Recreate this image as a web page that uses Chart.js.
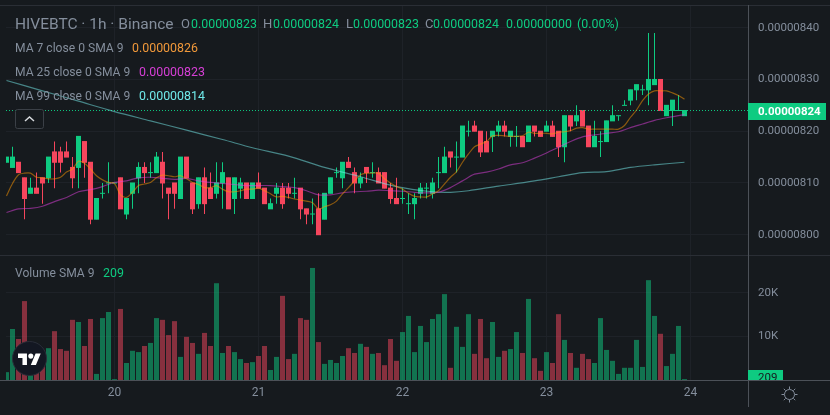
<!DOCTYPE html>
<html>
<head>
<meta charset="utf-8">
<title>HIVEBTC 1h</title>
<script src="https://cdn.jsdelivr.net/npm/chart.js@4/dist/chart.umd.min.js"></script>
<style>
    html, body { margin: 0; padding: 0; background: #161a1e; overflow: hidden; }
    #wrap { position: relative; width: 830px; height: 415px; font-family: Roboto, sans-serif; }
    canvas { position: absolute; left: 0; top: 0; }
    .txt { position: absolute; white-space: nowrap; font-size: 12.4px; line-height: 16px; color: #848e9c; }
    .up { color: #0ecb81; }
    svg { position: absolute; }
</style>
</head>
<body>
<div id="wrap">
    <canvas id="chart" width="830" height="415"></canvas>

    <div class="txt" style="left:15px;top:16px;font-size:15.5px">HIVEBTC · 1h · Binance</div>
    <div class="txt" style="left:181px;top:16px;font-size:13px">O</div>
    <div class="txt up" style="left:191px;top:16px">0.00000823</div>
    <div class="txt" style="left:263px;top:16px;font-size:13px">H</div>
    <div class="txt up" style="left:273px;top:16px">0.00000824</div>
    <div class="txt" style="left:346px;top:16px;font-size:13px">L</div>
    <div class="txt up" style="left:353px;top:16px">0.00000823</div>
    <div class="txt" style="left:425px;top:16px;font-size:13px">C</div>
    <div class="txt up" style="left:433px;top:16px">0.00000824</div>
    <div class="txt up" style="left:506px;top:16px">0.00000000</div>
    <div class="txt up" style="left:577px;top:16px">(0.00%)</div>

    <div class="txt" style="left:15px;top:40px;font-size:12.1px">MA 7 close 0 SMA 9</div>
    <div class="txt" style="left:132px;top:40px;color:#f0983a">0.00000826</div>
    <div class="txt" style="left:15px;top:64px;font-size:12.1px">MA 25 close 0 SMA 9</div>
    <div class="txt" style="left:139px;top:64px;color:#d63fd6">0.00000823</div>
    <div class="txt" style="left:15px;top:88px;font-size:12.1px">MA 99 close 0 SMA 9</div>
    <div class="txt" style="left:139px;top:88px;color:#6fe8e8">0.00000814</div>

    <div class="txt" style="left:15px;top:265px;font-size:12.1px">Volume SMA 9</div>
    <div class="txt up" style="left:103px;top:265px">209</div>

    <!-- collapse button -->
    <svg style="left:15px;top:109px" width="29" height="20">
        <rect x="0.5" y="0.5" width="28" height="19" rx="2" fill="#161a1e" stroke="#3b4047"/>
        <path d="M10 12 L14.5 8 L19 12" fill="none" stroke="#d7dade" stroke-width="1.5"/>
    </svg>

    <!-- tradingview badge -->
    <svg style="left:12px;top:341px" width="35" height="35" viewBox="0 0 35 35">
        <circle cx="17.5" cy="17.5" r="17" fill="#131722" stroke="#2a2e39"/>
        <g transform="translate(6,10) scale(0.64)" fill="#ffffff">
            <path d="M14 22H7V11H0V4h14v18zM28 22h-8l7.5-18h8L28 22z"/>
            <circle cx="20" cy="8" r="4"/>
        </g>
    </svg>

    <!-- settings icon -->
    <svg style="left:780px;top:385px" width="20" height="20" viewBox="0 0 20 20" fill="none" stroke="#848e9c">
        <circle cx="9.5" cy="9.5" r="5"/>
        <path d="M9.5 1.5v2.5M9.5 15v2.5M1.5 9.5h2.5M15 9.5h2.5M3.8 3.8l1.8 1.8M13.4 13.4l1.8 1.8M3.8 15.2l1.8-1.8M13.4 5.6l1.8-1.8"/>
    </svg>
</div>

<script>
// prices are in satoshi (1e-8 BTC), one entry per hourly candle
const candleOpen = [
    814,813,814,811,808,809,811,811,816,816,816,813,813,818,814,803,808,810,810,811,
    804,808,811,813,812,812,814,809,810,807,815,810,806,811,809,808,810,811,807,809,
    810,807,810,809,805,808,809,809,808,809,805,804,805,803,808,812,811,814,812,810,
    813,812,812,812,809,807,807,806,806,808,809,808,812,812,816,815,815,820,821,820,
    818,819,820,821,819,819,819,818,821,820,820,821,820,817,823,822,824,821,817,818,
    818,822,823,825,826,828,828,828,829,830,823,824,824,823
];
const candleHigh = [
    815,817,814,811,811,812,811,815,818,817,818,815,819,818,814,807,810,814,810,811,
    807,810,814,814,814,816,816,809,810,815,815,810,811,813,812,814,814,811,811,811,
    810,810,812,809,807,810,810,810,811,809,805,807,808,808,811,813,814,815,813,812,
    813,814,813,812,810,811,809,808,808,810,810,811,815,817,816,818,821,822,822,820,
    820,820,822,822,820,821,819,821,821,820,822,822,820,823,823,825,824,821,822,820,
    822,825,823,826,828,829,829,839,839,830,825,826,827,824
];
const candleLow = [
    814,813,812,803,808,808,806,810,809,812,815,809,809,811,802,803,807,808,810,805,
    803,805,808,810,811,812,807,803,805,807,811,804,805,804,807,807,805,805,804,807,
    807,807,809,806,805,806,805,807,807,803,802,802,800,803,808,811,809,813,808,809,
    810,811,810,809,806,806,806,804,803,807,807,807,809,812,813,812,815,819,820,815,
    816,816,819,819,817,817,817,818,819,819,820,819,815,814,820,821,821,817,817,815,
    818,822,822,825,825,826,827,825,829,824,823,821,824,823
];
const candleClose = [
    815,815,812,807,809,808,810,815,814,814,815,811,819,814,803,807,808,810,810,805,
    807,810,813,812,812,815,810,808,808,815,811,805,811,806,807,810,812,805,811,810,
    807,810,809,806,806,809,806,808,808,805,804,804,800,808,811,812,814,813,810,811,
    812,812,810,809,807,806,807,806,807,809,809,810,812,815,815,815,821,820,820,816,
    816,820,821,820,820,819,817,821,820,819,821,819,817,823,821,823,821,817,819,818,
    822,823,823,825,828,829,828,830,830,824,825,826,824,824
];

// volume in thousands
const volume = [
    1.8,11.7,9.4,18.1,6,5,4,7.3,11.2,7.1,6.7,13.8,13.3,7.8,14,1.4,14.2,15.6,0.2,16.3,
    3.9,6.7,6.4,7.8,8.5,14.2,13.8,10.3,13.5,5.3,9.9,8.5,6,10.8,7.8,22.2,6.2,7.8,6.4,4.8,
    3.9,4.1,5.5,7.8,2.3,5.3,19.3,4.8,6,14.2,13.8,25.7,8.7,3.7,4.6,3.9,5.5,7.3,6.2,8.3,
    7.6,6,6.2,3.4,9.4,4.4,11,14.7,6.4,12.4,8.7,14,15.1,19.7,2.8,12.2,7.6,15.1,6,14,
    5,13.3,5.3,6.7,7.1,11,6.2,18.6,5,2.1,6.4,3.9,15.1,9.2,6.2,2.8,6,4.8,3.9,14.2,
    6.9,4.4,1.4,2.8,2.8,9.2,3,22.9,14.7,10.6,3.2,6,12.4,0.209
];

const ma7 = [
    807.5,809.9,811.6,811.9,811.9,811.1,811,810.8,810.8,811.1,812.1,812.7,814.2,813.8,812.7,811.4,810.6,810.1,809.9,807.7,
    807.2,808.2,809.5,809.8,810.1,811,811.5,811.4,811.2,811.4,810.8,810.1,809.7,809.1,809.1,809.5,808.8,808.3,808.3,808.5,
    808.8,808.8,809,808.5,807.9,807.3,807.4,807.2,806.9,806.7,806.5,806.2,805,805.4,805.8,806.5,807.9,809.1,810.4,811.6,
    811.9,811.9,811.9,810.8,810,809.3,808.8,808,807.4,807.3,807.3,807.9,808.5,809.8,811.1,812.2,814,815.6,817,817.5,
    818,819.1,819.2,819.1,819,819,819.1,819.8,819.6,819.6,819.6,819.5,819.8,819.9,820.1,820.6,820.7,820.4,820.4,820.4,
    820.4,820.4,820.4,821.1,822.7,824.1,825.9,827.2,827.8,827.8,827.8,827.4,826.9,826.2
];
// the slow averages are read at every few candles only
const ma25Index = [
    0,2,4,6,8,10,12,14,16,18,20,22,24,26,28,30,32,34,36,38,40,42,44,46,48,50,52,54,56,58,60,
    62,64,66,68,70,72,74,76,78,80,82,84,86,88,90,92,94,96,98,100,102,104,106,108,110,112,113
];
const ma25 = [
    804.3,805,805.1,805.5,806.4,807.2,808.3,808.7,809.3,810.1,810.4,811,811.1,810.9,810.7,810.9,810.4,810.1,809.9,809.7,809.5,
    809.5,809.5,809.3,809.1,808.5,807.7,807.7,808.1,808.3,808.4,808.6,808.5,808.4,808.2,808.1,808.2,809.1,810.4,811.7,812.1,812.7,
    813.5,813.9,814.8,815.8,816.9,818,818.9,819.3,819.6,819.9,820.7,821.4,822.1,822.6,823,823.2
];
const ma99Index = [0,6,12,18,24,30,36,41,47,53,59,65,71,74,77,82,84,88,92,96,100,104,108,113];
const ma99 = [
    829.8,827.8,825.8,823.8,822,820.2,818.4,816.8,815.2,813,811.2,809.3,808.3,808.2,808.5,809.4,809.7,810.4,811.2,812,812.2,813,813.5,814
];

const dayTicks = [18, 42, 66, 90, 114];
const dayLabels = ['20', '21', '22', '23', '24'];
const priceTicks = [800, 810, 820, 830, 840];
const volumeTicks = [10, 20];
const lastPrice = 824;
const lastVolumeLabel = '209';

const GREEN = '#0ecb81';
const RED = '#f6465d';
const GRID = '#1e2228';
const TEXT = '#848e9c';
const FONT = { family: 'Roboto, sans-serif', size: 11.5 };

const xPoints = (index, values) => values.map((v, i) => ({ x: index[i], y: v }));
const allIndex = candleOpen.map((_, i) => i);
const candleColors = candleOpen.map((o, i) => candleClose[i] >= o ? GREEN : RED);
const volumeColors = candleOpen.map((o, i) => candleClose[i] >= o ? 'rgba(14,203,129,0.5)' : 'rgba(246,70,93,0.5)');

// wicks and bodies are floating bars, the bodies sit on top
const wicks = {
    type: 'bar', yAxisID: 'y', order: 6, grouped: false,
    data: allIndex.map(i => ({ x: i, y: [candleLow[i], candleHigh[i]] })),
    backgroundColor: candleColors, barThickness: 1, inflateAmount: 0
};
const bodies = {
    type: 'bar', yAxisID: 'y', order: 5, grouped: false,
    data: allIndex.map(i => ({ x: i, y: [candleOpen[i], candleClose[i]] })),
    backgroundColor: candleColors, barThickness: 4, inflateAmount: 0.5
};
const volumeBars = {
    type: 'bar', yAxisID: 'yVol', order: 7, grouped: false,
    data: allIndex.map(i => ({ x: i, y: volume[i] })),
    backgroundColor: volumeColors, barThickness: 5, inflateAmount: 0
};

function maLine(index, values, color) {
    return {
        type: 'line', yAxisID: 'y', order: 2,
        data: xPoints(index, values),
        borderColor: color, borderWidth: 1.2, pointRadius: 0, tension: 0.3
    };
}

// starts on a whole pixel so the dots stay sharp
const priceLine = {
    type: 'line', yAxisID: 'y', order: 3,
    data: [{ x: -1.0833, y: lastPrice }, { x: 124, y: lastPrice }],
    borderColor: GREEN, borderWidth: 1, borderDash: [1, 2], pointRadius: 0
};

// separators and the last value tags on the right
const panePlugin = {
    id: 'panePlugin',
    afterDraw(chart) {
        const { ctx, scales } = chart;
        ctx.save();
        ctx.fillStyle = '#2a2e35';
        ctx.fillRect(0, 5, 830, 1);
        ctx.fillRect(0, 255, 830, 1);
        ctx.fillStyle = '#4c5158';
        ctx.fillRect(748, 5, 1, 402);
        ctx.fillRect(0, 380, 830, 1);

        const py = Math.round(scales.y.getPixelForValue(lastPrice));
        ctx.fillStyle = GREEN;
        ctx.fillRect(748, py - 8, 78, 17);
        ctx.fillStyle = '#ffffff';
        ctx.font = 'bold 11.5px Roboto, sans-serif';
        ctx.textBaseline = 'middle';
        ctx.fillText((lastPrice / 1e8).toFixed(8), 758, py + 1);

        // this one is cut off by the bottom of the volume pane
        ctx.beginPath();
        ctx.rect(748, 370, 35, 10);
        ctx.clip();
        ctx.fillStyle = GREEN;
        ctx.fillRect(748, 370, 35, 10);
        ctx.fillStyle = '#161a1e';
        ctx.font = '11.5px Roboto, sans-serif';
        ctx.fillText(lastVolumeLabel, 758, 378);
        ctx.restore();
    }
};

// chart area has to keep its size, so no room is made for half tick labels
function noPadding(s) {
    s.paddingTop = 0;
    s.paddingBottom = 0;
    s.paddingLeft = 0;
    s.paddingRight = 0;
}

new Chart(document.getElementById('chart').getContext('2d'), {
    data: {
        datasets: [
            maLine(allIndex, ma7, 'rgba(255,152,0,0.5)'),
            maLine(ma25Index, ma25, 'rgba(225,64,224,0.5)'),
            maLine(ma99Index, ma99, 'rgba(120,240,240,0.5)'),
            priceLine, bodies, wicks, volumeBars
        ]
    },
    plugins: [panePlugin],
    options: {
        responsive: false,
        animation: false,
        events: [],
        layout: { padding: { left: 6, top: 5, right: 0, bottom: 0 } },
        plugins: { legend: { display: false }, tooltip: { enabled: false }, title: { display: false } },
        scales: {
            x: {
                type: 'linear',
                offset: false,
                min: -0.0833,
                max: 123.583,
                afterFit: s => { s.height = 35; noPadding(s); },
                afterBuildTicks: s => { s.ticks = dayTicks.map(v => ({ value: v })); },
                grid: { color: GRID, drawTicks: false, offset: false },
                border: { display: false },
                ticks: {
                    color: TEXT, font: { family: FONT.family, size: 12 }, padding: 6, maxRotation: 0, autoSkip: false,
                    callback: v => dayLabels[dayTicks.indexOf(v)]
                }
            },
            y: {
                position: 'right',
                stack: 'panes',
                stackWeight: 250,
                min: 796.08,
                max: 844.39,
                afterFit: s => { s.width = 82; noPadding(s); },
                afterBuildTicks: s => { s.ticks = priceTicks.map(v => ({ value: v })); },
                grid: { color: GRID, drawTicks: false },
                border: { display: false },
                ticks: { color: TEXT, font: FONT, padding: 10, callback: v => (v / 1e8).toFixed(8) }
            },
            yVol: {
                position: 'right',
                stack: 'panes',
                stackWeight: 125,
                min: 0,
                max: 28.67,
                afterFit: s => { s.width = 82; noPadding(s); },
                afterBuildTicks: s => { s.ticks = volumeTicks.map(v => ({ value: v })); },
                grid: { color: GRID, drawTicks: false },
                border: { display: false },
                ticks: { color: TEXT, font: FONT, padding: 10, callback: v => v + 'K' }
            }
        }
    }
});
</script>
</body>
</html>
